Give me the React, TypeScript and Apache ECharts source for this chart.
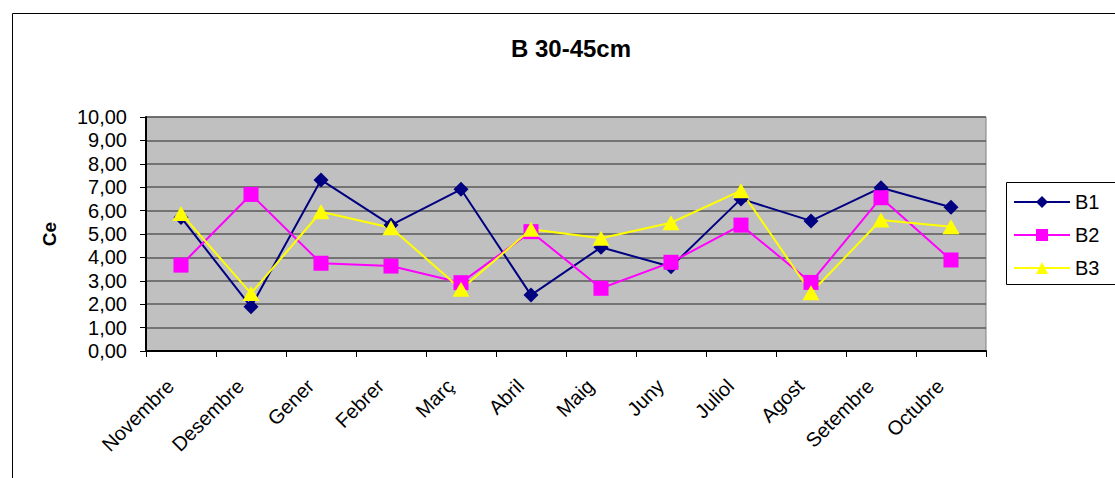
import React, { useEffect, useRef } from "react";
import * as echarts from "echarts";

const months = ["Novembre", "Desembre", "Gener", "Febrer", "Març", "Abril", "Maig", "Juny", "Juliol", "Agost", "Setembre", "Octubre"];
const b1 = [5.71, 1.89, 7.31, 5.38, 6.91, 2.39, 4.43, 3.6, 6.5, 5.56, 6.98, 6.14];
const b2 = [3.67, 6.69, 3.75, 3.63, 2.92, 5.1, 2.68, 3.79, 5.38, 2.93, 6.55, 3.89];
const b3 = [5.88, 2.46, 5.95, 5.27, 2.64, 5.2, 4.82, 5.48, 6.85, 2.49, 5.6, 5.31];

const FONT = "Arial, 'Liberation Sans', sans-serif";

export default function App() {
  const ref = useRef<HTMLDivElement>(null);
  useEffect(() => {
    if (!ref.current) return;
    const chart = echarts.init(ref.current, null, { renderer: "svg" });
    const mk = (name: string, data: number[], color: string, symbol: string, size: number | number[]) => ({
      name,
      type: "line",
      data,
      symbol,
      symbolSize: size,
      showSymbol: true,
      lineStyle: { color, width: 2 },
      itemStyle: { color, borderWidth: 0 },
    });
    chart.setOption({
      animation: false,
      backgroundColor: "#ffffff",
      textStyle: { fontFamily: FONT },
      title: {
        text: "B 30-45cm",
        left: 566,
        top: 31,
        textAlign: "center",
        textStyle: { fontFamily: FONT, fontSize: 24, fontWeight: "bold", color: "#000" },
      },
      legend: {
        orient: "vertical",
        left: 1008,
        top: 187,
        itemWidth: 56,
        itemHeight: 15,
        itemGap: 13,
        textStyle: { fontFamily: FONT, fontSize: 20, color: "#000" },
        data: ["B1", "B2", "B3"],
      },
      grid: { left: 146, right: 129, top: 117, bottom: 127, backgroundColor: "#C0C0C0", show: true, borderColor: "#808080", borderWidth: 1 },
      xAxis: {
        type: "category",
        data: months,
        boundaryGap: true,
        axisLine: { lineStyle: { color: "#000", width: 2 } },
        axisTick: { show: true, length: 6, lineStyle: { color: "#000" } },
        axisLabel: { rotate: 45, margin: 21, fontSize: 20, color: "#000", fontFamily: FONT, interval: 0, padding: [0, 15, 0, 0] },
        splitLine: { show: false },
      },
      yAxis: {
        type: "value",
        min: 0,
        max: 10,
        interval: 1,
        name: "Ce",
        nameLocation: "middle",
        nameGap: 87,
        nameTextStyle: { fontFamily: FONT, fontSize: 19, fontWeight: "bold", color: "#000" },
        axisLine: { show: true, lineStyle: { color: "#000", width: 2 } },
        axisTick: { show: true, length: 6, lineStyle: { color: "#000" } },
        axisLabel: {
          fontSize: 20,
          color: "#000",
          fontFamily: FONT,
          margin: 19,
          formatter: (v: number) => v.toFixed(2).replace(".", ","),
        },
        splitLine: { show: true, lineStyle: { color: "#5a5a5a", width: 1.5 } },
      },
      graphic: [
        { type: "rect", shape: { x: 12.5, y: 13.5, width: 1300, height: 700 }, style: { fill: "none", stroke: "#000", lineWidth: 1 }, z: 100 },
        { type: "rect", shape: { x: 1006.5, y: 182.5, width: 300, height: 102 }, style: { fill: "none", stroke: "#000", lineWidth: 1 }, z: 100 },
      ],
      series: [
        mk("B1", b1, "#000080", "diamond", 15),
        mk("B2", b2, "#FF00FF", "rect", 15),
        mk("B3", b3, "#FFFF00", "triangle", [17, 15]),
      ],
    });
    return () => chart.dispose();
  }, []);
  return <div ref={ref} style={{ position: "fixed", left: 0, top: 0, width: 1115, height: 478 }} />;
}
